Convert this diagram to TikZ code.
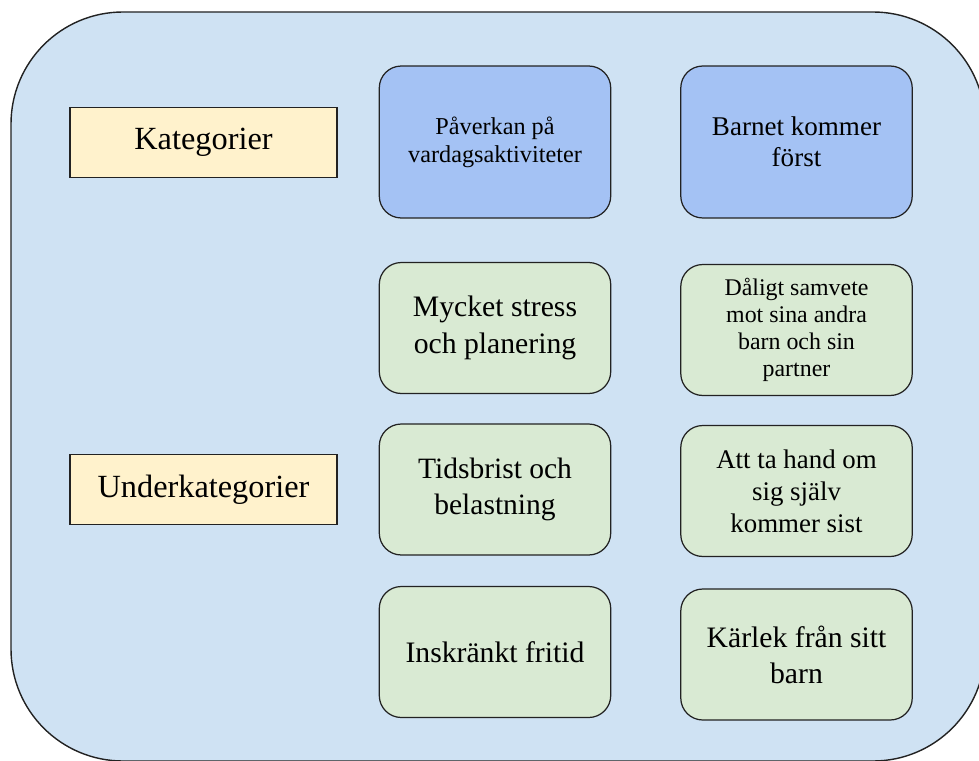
\documentclass[tikz,border=0pt]{standalone}
\usepackage{fontspec}
\setmainfont{Liberation Serif}
\definecolor{bgblue}{HTML}{CFE2F3}
\definecolor{catblue}{HTML}{A4C2F4}
\definecolor{subgreen}{HTML}{D9EAD3}
\definecolor{lblyellow}{HTML}{FFF2CC}
\definecolor{edge}{HTML}{222222}
\newcommand{\fs}[2]{\fontsize{#1}{#2}\selectfont}
\begin{document}
\begin{tikzpicture}[x=0.02cm, y=-0.02cm,
    lbl/.style={draw=edge, line width=0.7pt, fill=lblyellow, inner sep=0pt,
        minimum width=5.34cm, minimum height=1.4cm, font=\fontsize{18.4}{22}\selectfont},
    cat/.style={draw=edge, line width=0.7pt, fill=catblue, rounded corners=0.44cm,
        inner sep=0pt, minimum width=4.63cm, minimum height=3.04cm, align=center},
    sub/.style={draw=edge, line width=0.7pt, fill=subgreen, rounded corners=0.44cm,
        inner sep=0pt, minimum width=4.63cm, minimum height=2.62cm, align=center}]
    \useasboundingbox (0,0) rectangle (979,760);
    \clip (0,0) rectangle (979,760);
    \draw[draw=edge, line width=0.8pt, fill=bgblue, rounded corners=2.24cm]
        (11,12) rectangle (985,761);

    \node[lbl] at (203.5,142.5) (kat) {Kategorier};
    \node[lbl] at (203.5,489.5) (under) {Underkategorier};

    \node[cat, font=\fs{13.8}{16}] at (495,142) (pav) {Påverkan på\\vardagsaktiviteter};
    \node[cat, font=\fs{15.4}{17.7}] at (796.5,142) (barn) {Barnet kommer\\först};

    \node[sub, font=\fs{16.9}{21}] at (495,328) (stress) {Mycket stress\\och planering};
    \node[sub, font=\fs{13.6}{15.4}] at (796.5,330) (samvete) {Dåligt samvete\\mot sina andra\\barn och sin\\partner};
    \node[sub, font=\fs{16.8}{20.5}] at (495,489.5) (tid) {Tidsbrist och\\belastning};
    \node[sub, font=\fs{15.3}{18.2}] at (796.5,491) (sjalv) {Att ta hand om\\sig själv\\kommer sist};
    \node[sub, font=\fs{16.9}{20.5}] at (495,652) (fritid) {Inskränkt fritid};
    \node[sub, font=\fs{16.9}{20.5}] at (796.5,654.5) (karlek) {Kärlek från sitt\\barn};
\end{tikzpicture}
\end{document}
